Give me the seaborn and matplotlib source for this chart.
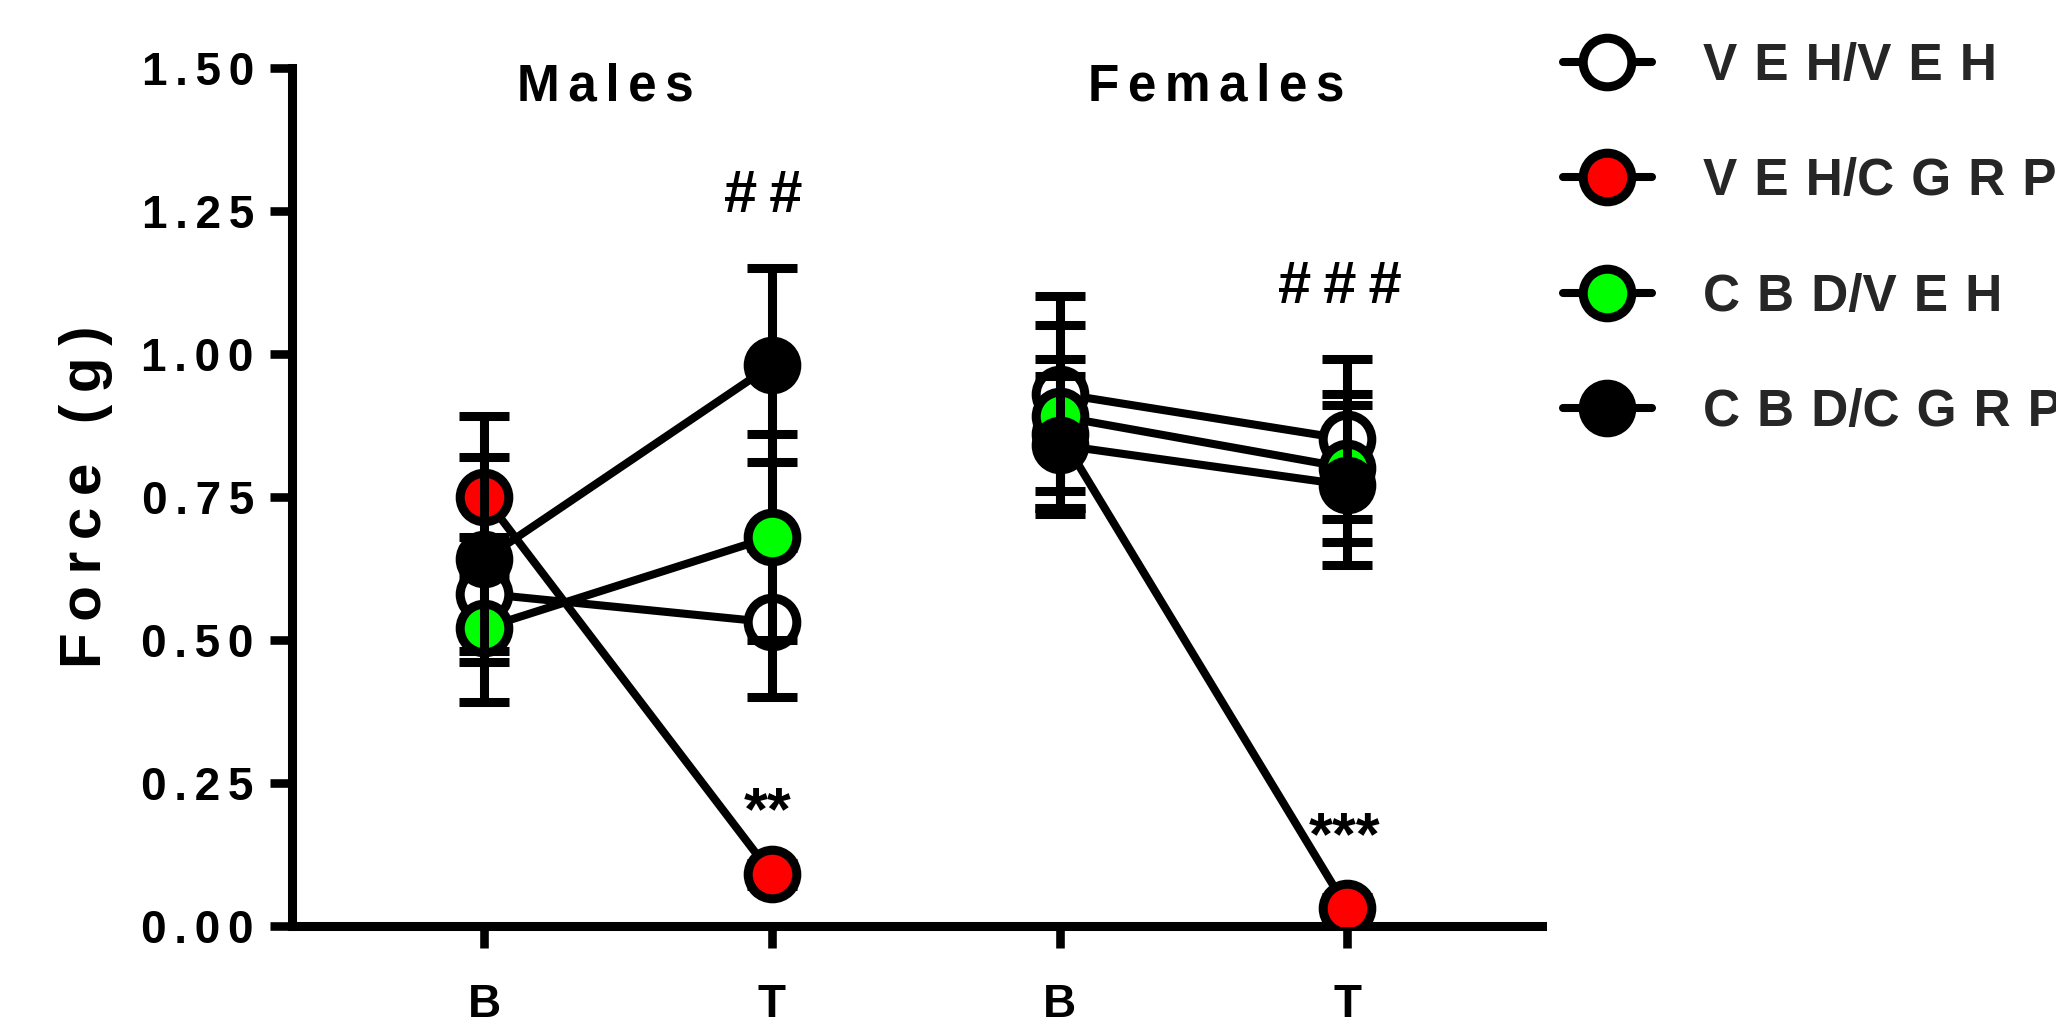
import matplotlib
matplotlib.use("Agg")
import matplotlib.pyplot as plt
from matplotlib.lines import Line2D
import pandas as pd
import seaborn as sns

sns.set_theme(style="ticks")
plt.rcParams["font.family"] = ["Liberation Sans", "DejaVu Sans"]
plt.rcParams["font.weight"] = "bold"

groups = ["VEH/VEH", "VEH/CGRP", "CBD/VEH", "CBD/CGRP"]
face_colors = ["#ffffff", "#ff0000", "#00ff00", "#000000"]
panels = ["Males", "Females"]
timepoints = ["B", "T"]

# Mean withdrawal force (g): Males B, Males T, Females B, Females T
veh_veh_mean = [0.58, 0.53, 0.93, 0.85]
veh_cgrp_mean = [0.75, 0.09, 0.86, 0.03]
cbd_veh_mean = [0.52, 0.68, 0.89, 0.80]
cbd_cgrp_mean = [0.64, 0.98, 0.84, 0.77]

# SEM for the same cells
veh_veh_sem = [0.10, 0.13, 0.17, 0.14]
veh_cgrp_sem = [0.14, 0.02, 0.13, 0.02]
cbd_veh_sem = [0.13, 0.18, 0.16, 0.13]
cbd_cgrp_sem = [0.18, 0.17, 0.12, 0.14]

yticks = [0.00, 0.25, 0.50, 0.75, 1.00, 1.25, 1.50]

# significance marks: (x position, baseline y, text)
hash_marks = [(0.97, 1.247, "##"), (2.975, 1.088, "###")]
star_marks = [(0.985, 0.169, "**"), (2.99, 0.124, "***")]

means = [veh_veh_mean, veh_cgrp_mean, cbd_veh_mean, cbd_cgrp_mean]
sems = [veh_veh_sem, veh_cgrp_sem, cbd_veh_sem, cbd_cgrp_sem]

rows = []
for g, m_list, s_list in zip(groups, means, sems):
    for i, (m, s) in enumerate(zip(m_list, s_list)):
        rows.append({"group": g, "sex": panels[i // 2], "time": timepoints[i % 2],
                     "pos": i, "force": m, "sem": s})
df = pd.DataFrame(rows)

SP6 = "\u2006"   # six-per-em space
SP5 = "\u2009"   # thin space
SP3 = "\u2004"   # three-per-em space


def tracked(word, gap):
    """Letter-spaced text; no extra gap around a slash."""
    return "/".join(gap.join(part) for part in word.split("/"))


LW = 5.8
MS = 35
MEW = 6.5

fig = plt.figure(figsize=(20.56, 10.17), dpi=100)
ax = fig.add_axes([292 / 2056, 91.4 / 1017, 1250 / 2056, 858.1 / 1017])

for k, (g, fc) in enumerate(zip(groups, face_colors)):
    sub = df[df["group"] == g]
    ax.errorbar(sub["pos"], sub["force"], yerr=sub["sem"], fmt="none",
                ecolor="black", elinewidth=6.5, capsize=18, capthick=6.5,
                zorder=3 + 2 * k)
    sns.lineplot(data=sub, x="pos", y="force", units="sex", estimator=None,
                 color="black", linewidth=LW, marker="o", markersize=MS,
                 markerfacecolor=fc, markeredgecolor="black",
                 markeredgewidth=MEW, zorder=4 + 2 * k, ax=ax, legend=False)

sns.despine(ax=ax)
for s in ["left", "bottom"]:
    ax.spines[s].set_linewidth(6.5)
    ax.spines[s].set_color("black")

ax.set_xlim(-0.668, 3.677)
ax.set_ylim(0, 1.5)
ax.set_yticks(yticks)
ax.set_yticklabels([SP6.join(f"{v:.2f}") for v in yticks])
ax.set_xticks(range(4))
ax.set_xticklabels(timepoints * 2)
ax.tick_params(axis="both", which="major", direction="out", length=16, width=6.2,
               color="black", labelsize=33, labelcolor="black",
               bottom=True, left=True)
ax.tick_params(axis="y", pad=11.5)
ax.tick_params(axis="x", pad=25)
for lab in ax.get_xticklabels() + ax.get_yticklabels():
    lab.set_fontweight("bold")

ax.set_xlabel("")
ax.set_ylabel(SP5.join("Force (g)"), fontsize=42, fontweight="bold", color="black")
ax.yaxis.set_label_coords(-0.143, 0.5)

ax.text(0.42, 1.442, SP6.join("Males"), ha="center", va="baseline",
        fontsize=37, fontweight="bold", color="black")
ax.text(2.545, 1.442, SP6.join("Females"), ha="center", va="baseline",
        fontsize=37, fontweight="bold", color="black")

for x, y, t in hash_marks:
    ax.text(x, y, SP5.join(t), ha="center", va="baseline", fontsize=43,
            fontweight="bold", color="black")
for x, y, t in star_marks:
    ax.text(x, y, t, ha="center", va="baseline", fontsize=44,
            fontweight="bold", color="black")

handles = [Line2D([0], [0], color="black", lw=LW, marker="o", ms=MS,
                  mfc=fc, mec="black", mew=MEW) for fc in face_colors]
labels = [tracked(g, SP3) for g in groups]
fig.legend(handles, labels, loc="upper left",
           bbox_to_anchor=(1563 / 2056, 1 - 42 / 1017), frameon=False,
           prop={"weight": "bold", "size": 37}, handlelength=1.73,
           handletextpad=1.0, labelspacing=1.29, borderpad=0, borderaxespad=0)

fig.savefig("out.png", dpi=100, facecolor="white")
